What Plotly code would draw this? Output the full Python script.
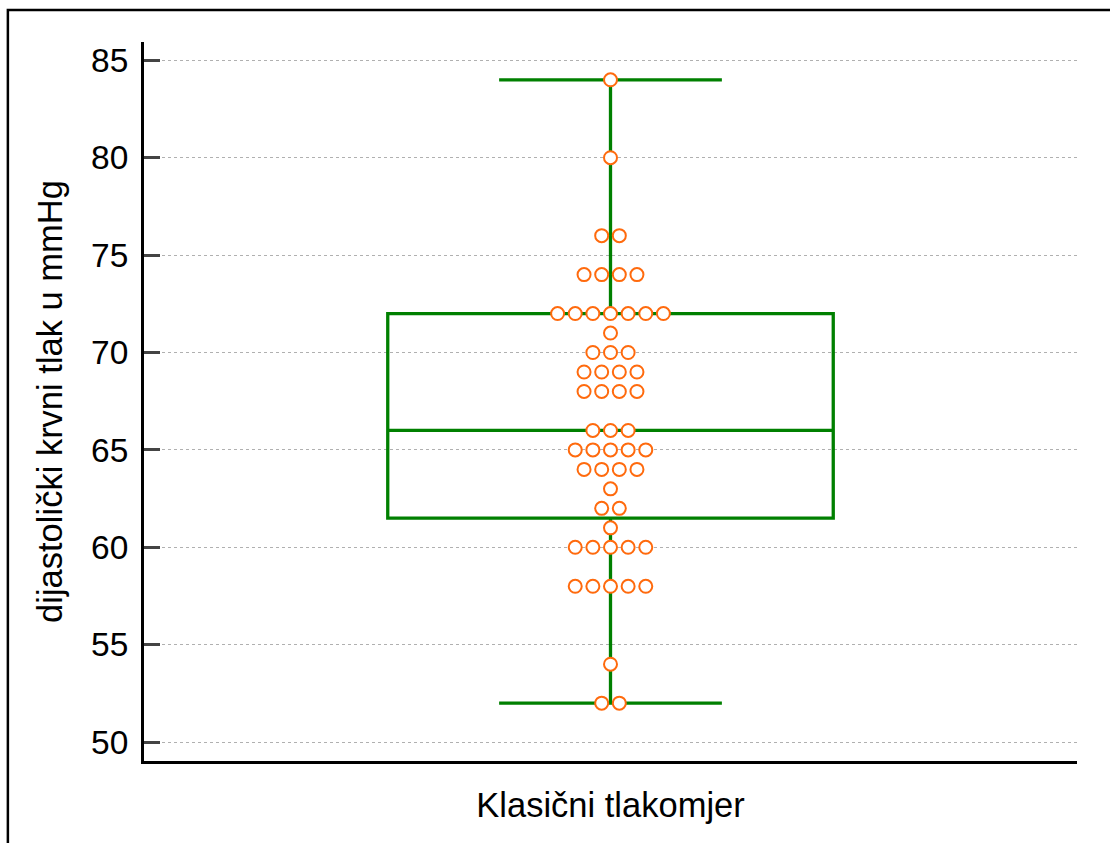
import plotly.graph_objects as go
from collections import Counter

# Diastolic blood pressure readings (mmHg), classic sphygmomanometer
dbp_values = [
    84,
    80,
    76, 76,
    74, 74, 74, 74,
    72, 72, 72, 72, 72, 72, 72,
    71,
    70, 70, 70,
    69, 69, 69, 69,
    68, 68, 68, 68,
    66, 66, 66,
    65, 65, 65, 65, 65,
    64, 64, 64, 64,
    63,
    62, 62,
    61,
    60, 60, 60, 60, 60,
    58, 58, 58, 58, 58,
    54,
    52, 52,
]

# Box statistics
q1 = [61.5]
median = [66]
q3 = [72]
lower_whisker = [52]
upper_whisker = [84]

category_label = "Klasični tlakomjer"
y_title = "dijastolički krvni tlak u mmHg"
y_ticks = [50, 55, 60, 65, 70, 75, 80, 85]

GREEN = "#008000"
ORANGE = "#ff6a0d"
DOT_STEP = 0.0189  # horizontal spacing of stacked dots, in axis units

# Arrange equal readings side by side, centred on the box
counts = Counter(dbp_values)
xs, ys = [], []
for v in sorted(counts, reverse=True):
    n = counts[v]
    for i in range(n):
        xs.append((i - (n - 1) / 2) * DOT_STEP)
        ys.append(v)

fig = go.Figure()
fig.add_trace(go.Box(
    x=[0], q1=q1, median=median, q3=q3,
    lowerfence=lower_whisker, upperfence=upper_whisker,
    width=0.4775, whiskerwidth=0.5,
    line=dict(color=GREEN, width=3.3),
    fillcolor="rgba(0,0,0,0)",
    boxpoints=False, showlegend=False, hoverinfo="skip",
))
fig.add_trace(go.Scatter(
    x=xs, y=ys, mode="markers",
    marker=dict(symbol="circle", size=13, color="white",
                line=dict(color=ORANGE, width=2)),
    showlegend=False,
))

fig.update_layout(
    width=1110, height=843,
    margin=dict(l=144, r=33, t=42, b=82),
    paper_bgcolor="white", plot_bgcolor="white",
    font=dict(family="Liberation Sans, Arial, sans-serif", color="black"),
    xaxis=dict(
        range=[-0.5, 0.5], tickvals=[0], ticktext=[category_label],
        showgrid=False, zeroline=False, ticks="",
        showline=True, linecolor="black", linewidth=3,
        tickfont=dict(size=34.5), ticklabelstandoff=12,
    ),
    yaxis=dict(
        range=[49.03, 85.94], tickvals=y_ticks,
        showgrid=True, gridcolor="#b0b0b0", griddash="dot", gridwidth=1,
        zeroline=False, showline=True, linecolor="black", linewidth=3,
        ticks="inside", ticklen=16, tickwidth=3, tickcolor="#444444",
        tickfont=dict(size=33.5), ticklabelstandoff=6,
        title=dict(text=y_title, font=dict(size=34.5), standoff=18),
    ),
    shapes=[dict(
        type="rect", xref="paper", yref="paper",
        x0=-0.1459, x1=1.3, y0=-0.4, y1=1.0446,
        line=dict(color="black", width=2.5), fillcolor="rgba(0,0,0,0)",
        layer="above",
    )],
)

fig.write_html("out.html")
